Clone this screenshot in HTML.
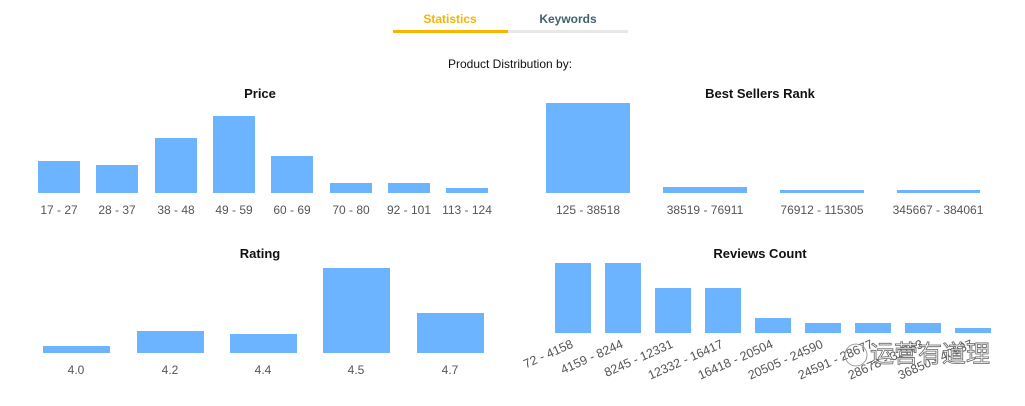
<!DOCTYPE html>
<html><head><meta charset="utf-8"><style>
body{margin:0;background:#fff;width:1025px;height:401px;overflow:hidden}
text{font-family:"Liberation Sans",sans-serif}
</style></head><body>
<svg width="1025" height="401" xmlns="http://www.w3.org/2000/svg">
<text x="450" y="23" text-anchor="middle" font-size="12" font-weight="bold" fill="#f5b400">Statistics</text>
<text x="568" y="23" text-anchor="middle" font-size="12" font-weight="bold" fill="#44606e">Keywords</text>
<rect x="393" y="30" width="235" height="3" fill="#e8e8e8"/>
<rect x="393" y="30" width="115" height="3" fill="#f7b500"/>
<text x="510" y="68" text-anchor="middle" font-size="12" fill="#111">Product Distribution by:</text>
<g font-size="13" font-weight="bold" fill="#111" text-anchor="middle">
<text x="260" y="98">Price</text><text x="760" y="98">Best Sellers Rank</text>
<text x="260" y="258">Rating</text><text x="760" y="258">Reviews Count</text>
</g>
<g fill="#6cb4ff">
<rect x="38" y="161" width="42" height="32"/><rect x="96" y="165" width="42" height="28"/>
<rect x="155" y="138" width="42" height="55"/><rect x="213" y="116" width="42" height="77"/>
<rect x="271" y="156" width="42" height="37"/><rect x="330" y="183" width="42" height="10"/>
<rect x="388" y="183" width="42" height="10"/><rect x="446" y="188" width="42" height="5"/>
<rect x="546" y="103" width="84" height="90"/><rect x="663" y="187" width="84" height="6"/>
<rect x="780" y="190" width="84" height="3"/><rect x="897" y="190" width="83" height="3"/>
<rect x="43" y="346" width="67" height="7"/><rect x="137" y="331" width="67" height="22"/>
<rect x="230" y="334" width="67" height="19"/><rect x="323" y="268" width="67" height="85"/>
<rect x="417" y="313" width="67" height="40"/>
<rect x="555" y="263" width="36" height="70"/><rect x="605" y="263" width="36" height="70"/>
<rect x="655" y="288" width="36" height="45"/><rect x="705" y="288" width="36" height="45"/>
<rect x="755" y="318" width="36" height="15"/><rect x="805" y="323" width="36" height="10"/>
<rect x="855" y="323" width="36" height="10"/><rect x="905" y="323" width="36" height="10"/>
<rect x="955" y="328" width="36" height="5"/>
</g>
<g font-size="12" fill="#555" text-anchor="middle">
<text x="59" y="214">17 - 27</text><text x="117" y="214">28 - 37</text><text x="176" y="214">38 - 48</text>
<text x="234" y="214">49 - 59</text><text x="292" y="214">60 - 69</text><text x="351" y="214">70 - 80</text>
<text x="409" y="214">92 - 101</text><text x="467" y="214">113 - 124</text>
<text x="588" y="214">125 - 38518</text><text x="705" y="214">38519 - 76911</text>
<text x="822" y="214">76912 - 115305</text><text x="938" y="214">345667 - 384061</text>
<text x="76" y="374">4.0</text><text x="170" y="374">4.2</text><text x="263" y="374">4.4</text>
<text x="356" y="374">4.5</text><text x="450" y="374">4.7</text>
</g>
<g font-size="12.5" fill="#555" text-anchor="end">
<text transform="translate(574,347) rotate(-24)">72 - 4158</text>
<text transform="translate(624,347) rotate(-24)">4159 - 8244</text>
<text transform="translate(674,347) rotate(-24)">8245 - 12331</text>
<text transform="translate(724,347) rotate(-24)">12332 - 16417</text>
<text transform="translate(774,347) rotate(-24)">16418 - 20504</text>
<text transform="translate(824,347) rotate(-24)">20505 - 24590</text>
<text transform="translate(874,347) rotate(-24)">24591 - 28677</text>
<text transform="translate(924,347) rotate(-24)">28678 - 32763</text>
<text transform="translate(974,347) rotate(-24)">36850 - 40937</text>
</g>
<circle cx="856" cy="355" r="11" fill="none" stroke="#888" stroke-width="0.8"/>
<text x="870" y="362" font-size="24" fill="#fff" stroke="#666" stroke-width="0.8" style='font-family:"Liberation Sans","Noto Sans CJK SC",sans-serif'>运营有道理</text>
</svg>
</body></html>
